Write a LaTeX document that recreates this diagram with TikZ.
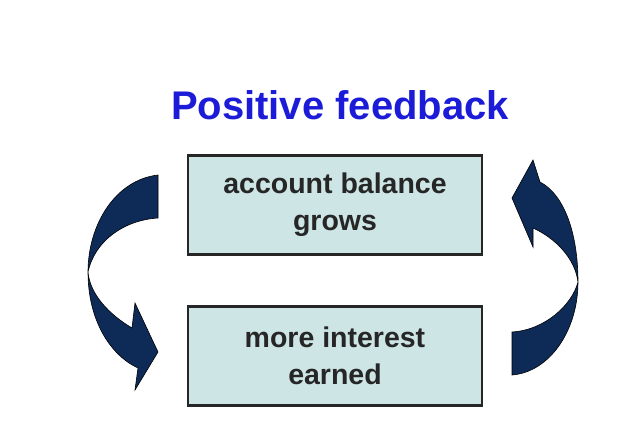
\documentclass[tikz,border=0pt]{standalone}
\usepackage{fontspec}
\setmainfont{Liberation Sans}
\definecolor{navy}{HTML}{0E2A57}
\definecolor{boxfill}{HTML}{CDE5E5}
\definecolor{ttl}{HTML}{1C1CD8}
\begin{document}
\begin{tikzpicture}[x=1pt,y=-1pt,
  box/.style={draw=black!85,line width=2.4pt,fill=boxfill,minimum width=294pt,minimum height=99pt,align=center,font=\fontsize{28.5}{37}\selectfont\bfseries,text=black!85},
  bigarrow/.style={fill=navy,draw=black,line width=0.6pt}]
\useasboundingbox (0,0) rectangle (638,434);
\node[font=\fontsize{40}{46}\selectfont\bfseries,text=ttl] (title) at (340,105) {Positive feedback};
\node[box] (top) at (335,205) {account balance\\grows};
\node[box] (bot) at (335,356) {more interest\\earned};
\path[bigarrow] (158,175) .. controls (115,180) and (88,225) .. (88,272)
  .. controls (88,320) and (110,355) .. (138,368) -- (135,390) -- (158,352) -- (135,303) -- (132,328)
  .. controls (110,315) and (90,295) .. (88,272)
  .. controls (95,240) and (125,220) .. (158,218) -- cycle;
\path[bigarrow] (512,375) .. controls (550,372) and (578,330) .. (578,282)
  .. controls (578,235) and (565,195) .. (540,182) -- (533,160) -- (512,198) -- (533,247) -- (533,228)
  .. controls (555,238) and (575,258) .. (578,282)
  .. controls (572,305) and (545,330) .. (512,332) -- cycle;
\end{tikzpicture}
\end{document}
